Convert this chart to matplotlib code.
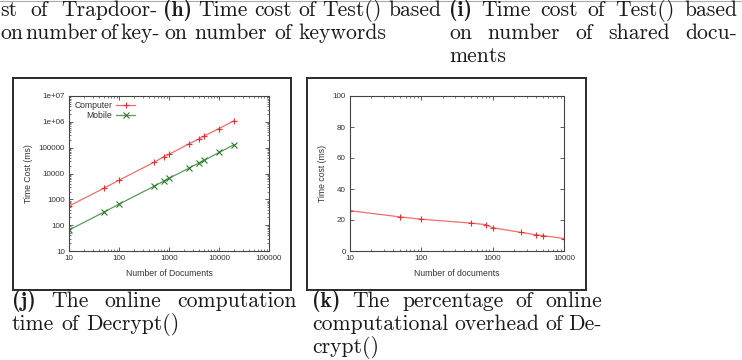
import matplotlib
matplotlib.use('Agg')
import matplotlib.pyplot as plt
from matplotlib.ticker import FixedLocator, FixedFormatter, LogLocator, NullFormatter
from matplotlib.patches import Rectangle

# ---------------- data ----------------
docs_j = [10, 50, 100, 500, 800, 1000, 2500, 4000, 5000, 10000, 20000]
computer_ms = [550, 2700, 5500, 27000, 45000, 55000, 140000, 220000, 280000, 550000, 1100000]
mobile_ms = [65, 320, 650, 3200, 5200, 6500, 16000, 26000, 32000, 65000, 130000]

docs_k = [10, 50, 100, 500, 800, 1000, 2500, 4000, 5000, 10000]
overhead_ms = [26, 22, 20.5, 18, 17, 15, 12, 10.5, 10, 8]

j_xticks = [10, 100, 1000, 10000, 100000]
j_xlabels = ["10", "100", "1000", "10000", "100000"]
j_yticks = [10, 100, 1000, 10000, 100000, 1e6, 1e7]
j_ylabels = ["10", "100", "1000", "10000", "100000", "1e+06", "1e+07"]
k_xticks = [10, 100, 1000, 10000]
k_xlabels = ["10", "100", "1000", "10000"]
k_yticks = [0, 20, 40, 60, 80, 100]

# captions: (text, bold prefix, x0, x1, baseline_y, justify)
captions = [
    ("st of Trapdoor-", None, 0, 158, 16, True),
    ("on number of key-", None, 0, 159, 39, True),
    ("Time cost of Test() based", "(h)", 163, 441, 16, True),
    ("on number of keywords", None, 164, None, 39, False),
    ("Time cost of Test() based", "(i)", 449, 737, 16, True),
    ("on number of shared docu-", None, 449, 737, 39, True),
    ("ments", None, 449, None, 62, False),
    ("The online computation", "(j)", 12, 297, 307, True),
    ("time of Decrypt()", None, 12, None, 330, False),
    ("The percentage of online", "(k)", 312, 602, 307, True),
    ("computational overhead of De-", None, 312, 602, 330, True),
    ("crypt()", None, 312, None, 353, False),
]

W, H = 742, 360
fig = plt.figure(figsize=(W / 100, H / 100), dpi=100)

SANS = ['Liberation Sans', 'DejaVu Sans']
TXT = '#1a1a1a'
CAP_SIZE = 15.6


def px_axes(l, t, r, b):
    return fig.add_axes([l / W, 1 - b / H, (r - l) / W, (b - t) / H])


def style_axes(ax):
    for s in ax.spines.values():
        s.set_color('#444444')
        s.set_linewidth(0.8)
    ax.tick_params(which='both', direction='in', top=True, right=True,
                   colors='#444444', labelcolor='#333333', labelsize=5.8, pad=3)
    ax.tick_params(which='major', length=3, width=0.6)
    ax.tick_params(which='minor', length=1.6, width=0.5)
    for lab in ax.get_xticklabels() + ax.get_yticklabels():
        lab.set_family(SANS)


# frames
for (l, t, r, b) in [(13, 78, 291, 290), (307, 78, 586, 290)]:
    fig.patches.append(Rectangle((l / W, 1 - b / H), (r - l) / W, (b - t) / H,
                                 transform=fig.transFigure, fill=False,
                                 edgecolor='#2a2a2a', linewidth=1.4))
# thin grey line at top (bottom of previous frames)
fig.add_artist(plt.Line2D([0, 1], [1 - 0.5 / H, 1 - 0.5 / H], transform=fig.transFigure,
                          color='#aaaaaa', linewidth=0.8))

# ---------------- panel j ----------------
axj = px_axes(69, 96, 269, 251)
axj.plot(docs_j, computer_ms, color='#ee6e6e', marker='+', markersize=5,
         markeredgecolor='#e03030', markeredgewidth=0.8, linewidth=0.9, label='Computer')
axj.plot(docs_j, mobile_ms, color='#5a9a5a', marker='x', markersize=4,
         markeredgecolor='#2e7d2e', markeredgewidth=0.8, linewidth=0.9, label='Mobile')
axj.set_xscale('log')
axj.set_yscale('log')
axj.set_xlim(10, 100000)
axj.set_ylim(10, 1e7)
axj.xaxis.set_major_locator(FixedLocator(j_xticks))
axj.xaxis.set_major_formatter(FixedFormatter(j_xlabels))
axj.yaxis.set_major_locator(FixedLocator(j_yticks))
axj.yaxis.set_major_formatter(FixedFormatter(j_ylabels))
for a in (axj.xaxis, axj.yaxis):
    a.set_minor_locator(LogLocator(base=10, subs=range(2, 10), numticks=20))
    a.set_minor_formatter(NullFormatter())
style_axes(axj)
axj.set_xlabel('Number of Documents', family=SANS, fontsize=6.2, color='#333333', labelpad=5)
axj.set_ylabel('Time Cost (ms)', family=SANS, fontsize=6.2, color='#333333', labelpad=4)
leg = axj.legend(loc='upper left', frameon=False, markerfirst=False,
                 handlelength=2.2, handletextpad=0.5, labelspacing=0.15,
                 borderaxespad=0.2, prop={'family': SANS, 'size': 6.2})
for t in leg.get_texts():
    t.set_color('#333333')

# ---------------- panel k ----------------
axk = px_axes(350, 96, 564, 251)
axk.plot(docs_k, overhead_ms, color='#ee6e6e', marker='+', markersize=5,
         markeredgecolor='#e03030', markeredgewidth=0.8, linewidth=0.9)
axk.set_xscale('log')
axk.set_xlim(10, 10000)
axk.set_ylim(0, 100)
axk.xaxis.set_major_locator(FixedLocator(k_xticks))
axk.xaxis.set_major_formatter(FixedFormatter(k_xlabels))
axk.xaxis.set_minor_locator(LogLocator(base=10, subs=range(2, 10), numticks=20))
axk.xaxis.set_minor_formatter(NullFormatter())
axk.yaxis.set_major_locator(FixedLocator(k_yticks))
style_axes(axk)
axk.set_xlabel('Number of documents', family=SANS, fontsize=6.2, color='#333333', labelpad=5)
axk.set_ylabel('Time cost (ms)', family=SANS, fontsize=6.2, color='#333333', labelpad=4)

# ---------------- captions ----------------
renderer = fig.canvas.get_renderer()


def word_width(word, family):
    t = fig.text(0, 0, word, family=family, fontsize=CAP_SIZE)
    w = t.get_window_extent(renderer).width
    t.remove()
    return w


space_w = word_width('a a', 'cmr10') - 2 * word_width('a', 'cmr10')

for text, bold, x0, x1, yb, justify in captions:
    words = [(w, 'cmr10') for w in text.split(' ')]
    if bold:
        words = [(bold, 'cmb10')] + words
    widths = [word_width(w, f) for w, f in words]
    if justify and len(words) > 1:
        gap = max((x1 - x0 - sum(widths)) / (len(words) - 1), 2.5)
    else:
        gap = space_w
    x = x0
    for (w, f), ww in zip(words, widths):
        fig.text(x / W, 1 - yb / H, w, family=f, fontsize=CAP_SIZE, color=TXT,
                 ha='left', va='baseline')
        x += ww + gap

fig.savefig('out.png', dpi=100)
